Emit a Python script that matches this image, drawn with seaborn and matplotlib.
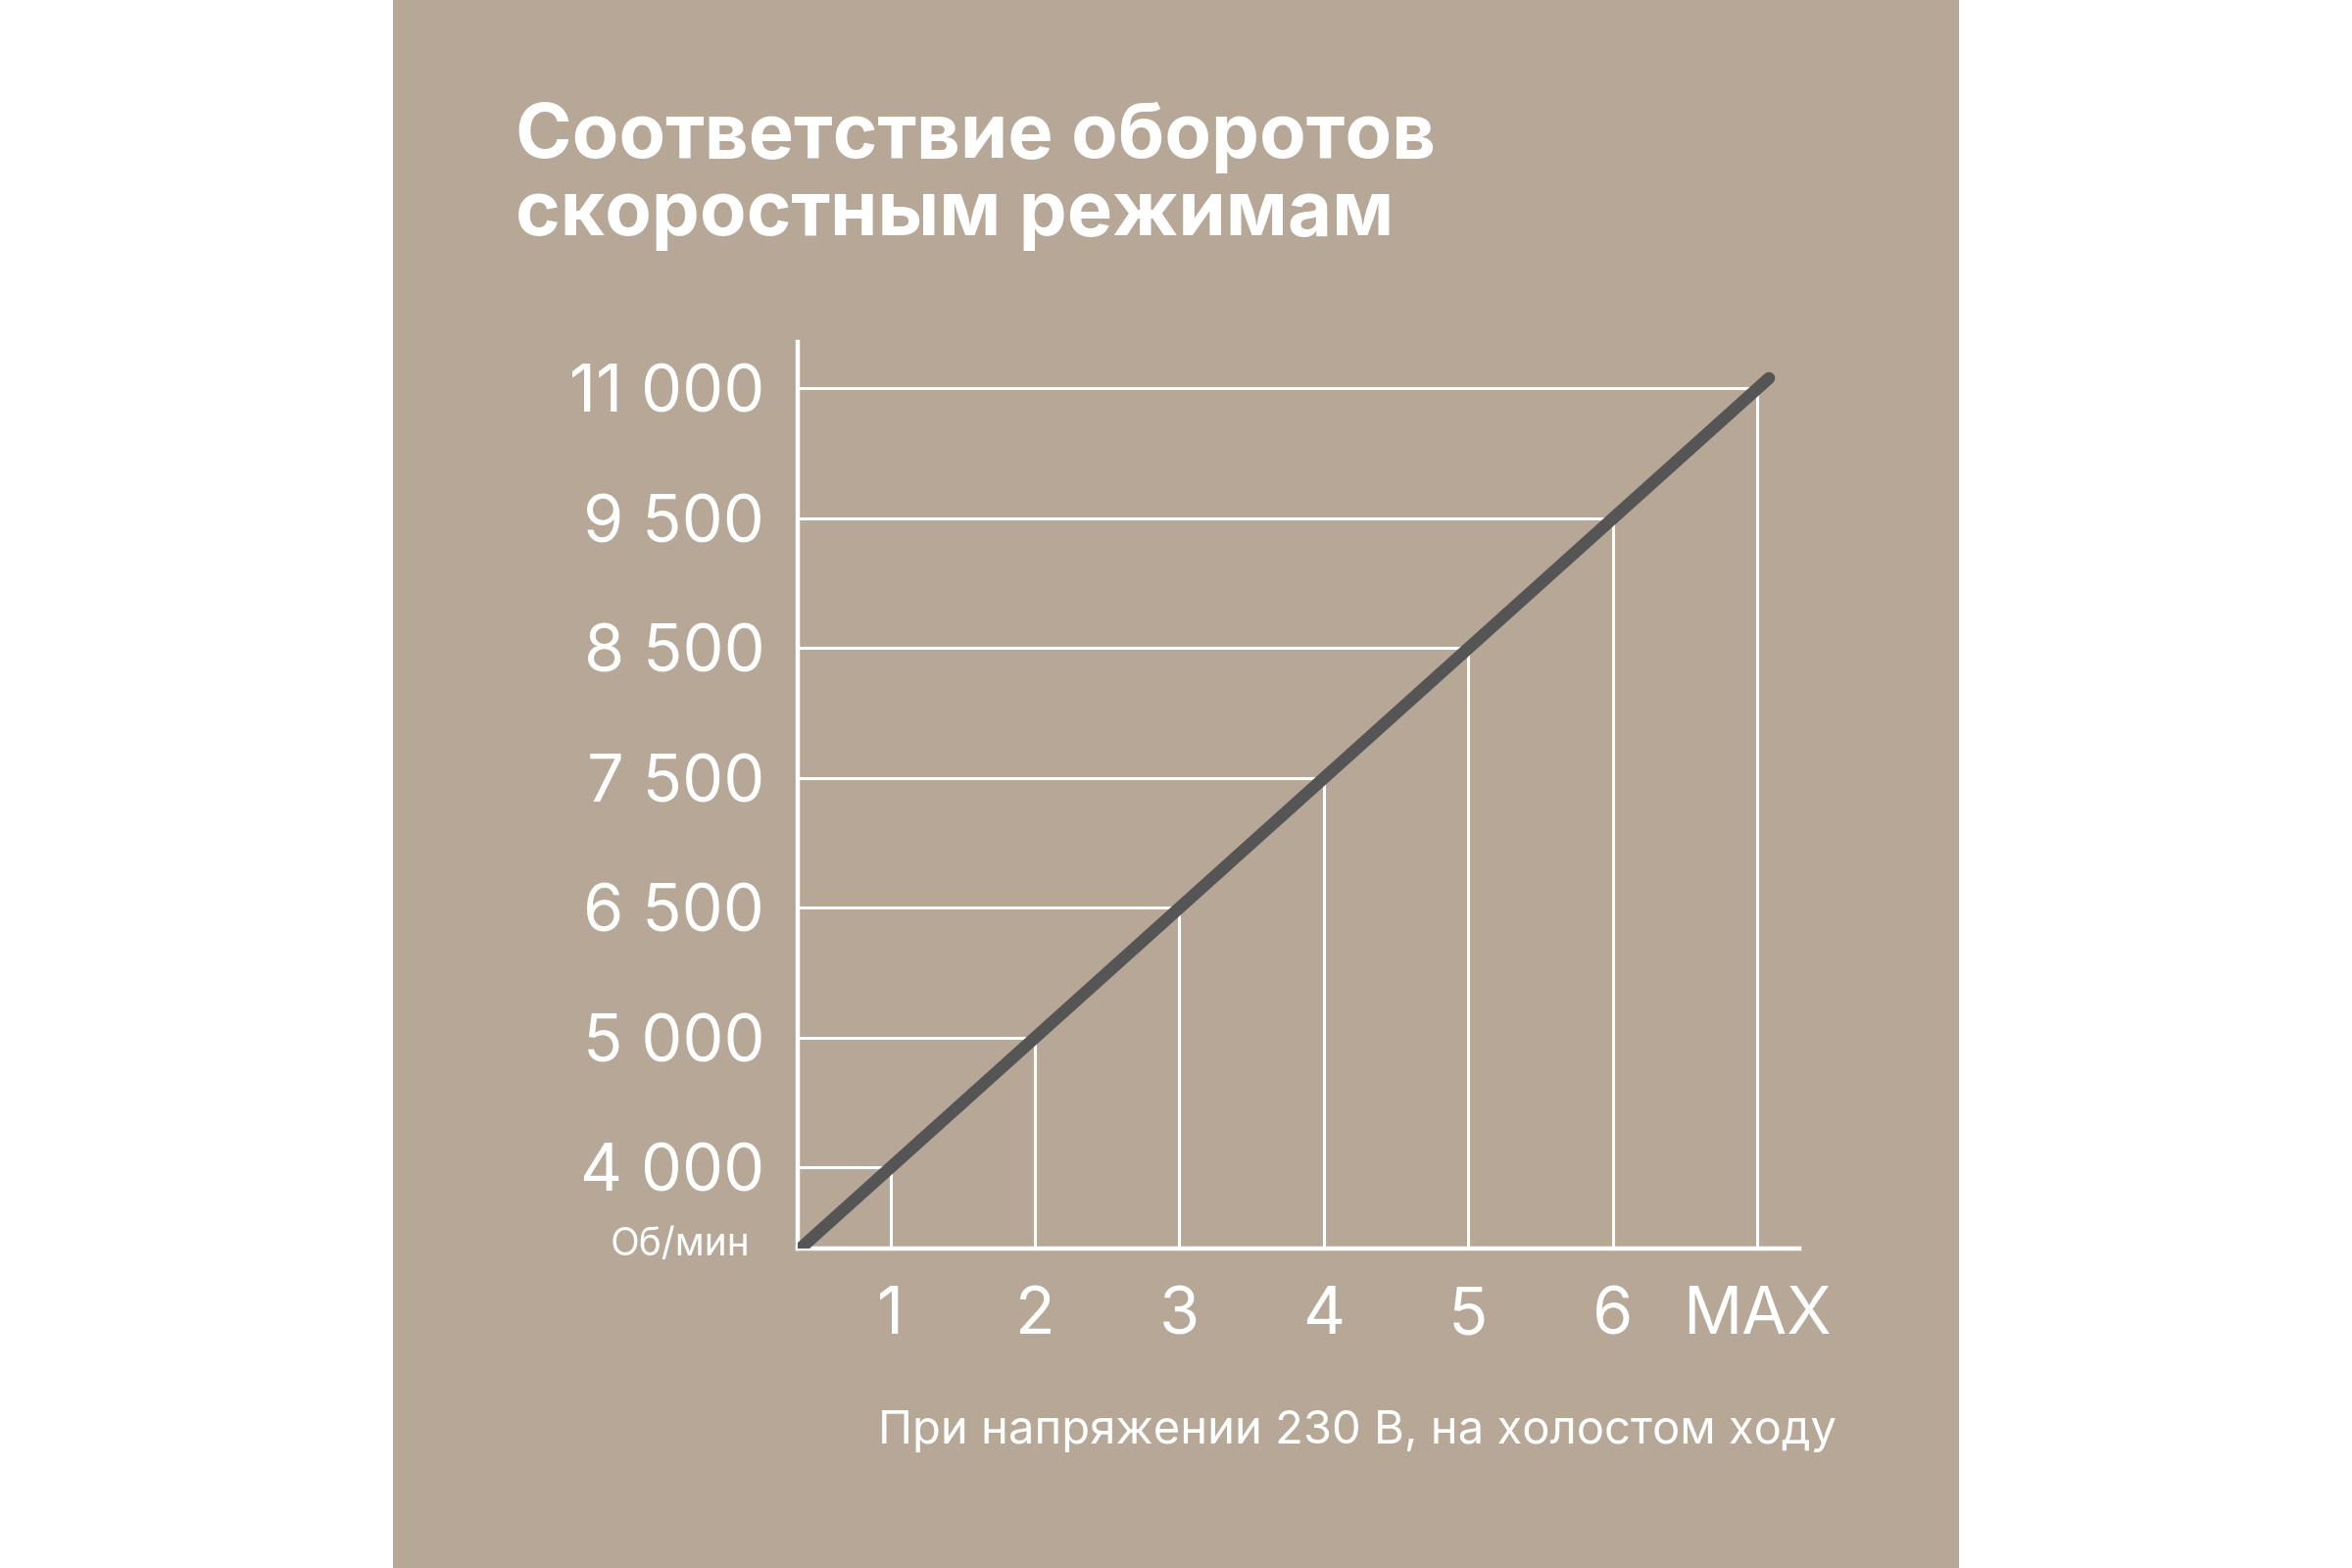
import matplotlib
matplotlib.use("Agg")
import matplotlib.pyplot as plt
import matplotlib.patches as mpatches
import seaborn as sns
import pandas as pd

modes = ["1", "2", "3", "4", "5", "6", "MAX"]
rpm = [4000, 5000, 6500, 7500, 8500, 9500, 11000]
rpm_labels = ["4 000", "5 000", "6 500", "7 500", "8 500", "9 500", "11 000"]
title = "Соответствие оборотов\nскоростным режимам"
unit = "Об/мин"
note = "При напряжении 230 В, на холостом ходу"

sns.set_theme(style="white")
plt.rcParams["font.family"] = ["Inter", "DejaVu Sans"]

BG = "#b7a796"
LINE = "#555555"

fig = plt.figure(figsize=(12, 8), dpi=200)
fig.patch.set_facecolor("white")
fig.patches.append(mpatches.Rectangle((0.167, 0), 0.666, 1, transform=fig.transFigure,
                                      facecolor=BG, edgecolor="none", zorder=-5))

ax = fig.add_axes([0.339, 0.204, 0.426, 0.578])
ax.set_zorder(2)
ax.set_facecolor("none")

xs = list(range(1, len(modes) + 1))
ys = list(range(len(rpm)))
x0, xN = 0.356, 7.29
y0, yN = -0.62, 6.36

for i in ys:
    ax.plot([x0, xs[i]], [i, i], color="white", lw=1.1, zorder=1)
    ax.plot([xs[i], xs[i]], [y0, i], color="white", lw=1.1, zorder=1)

df = pd.DataFrame({"x": [xs[0] - 0.62] + xs + [xs[-1] + 0.08],
                   "y": [ys[0] - 0.62] + ys + [ys[-1] + 0.08]})
sns.lineplot(data=df, x="x", y="y", ax=ax, color=LINE, lw=4.5, zorder=3)

ax.set_xlim(x0, xN)
ax.set_ylim(y0, yN)
for s in ["top", "right"]:
    ax.spines[s].set_visible(False)
for s in ["left", "bottom"]:
    ax.spines[s].set_color("white")
    ax.spines[s].set_linewidth(1.6)
ax.set_xticks(xs)
ax.set_xticklabels(modes)
ax.set_yticks(ys)
ax.set_yticklabels(rpm_labels)
ax.tick_params(axis="both", length=0, labelcolor="white", labelsize=24)
ax.tick_params(axis="x", pad=14)
ax.tick_params(axis="y", pad=12)
ax.set_xlabel("")
ax.set_ylabel("")

fig.text(0.219, 0.935, title, color="white", fontsize=28, fontweight="bold",
         va="top", ha="left", linespacing=1.1)
fig.text(0.319, 0.206, unit, color="white", fontsize=14, ha="right", va="center")
fig.text(0.781, 0.087, note, color="white", fontsize=17, ha="right", va="center")

fig.savefig("out.png", dpi=200, facecolor="white")
